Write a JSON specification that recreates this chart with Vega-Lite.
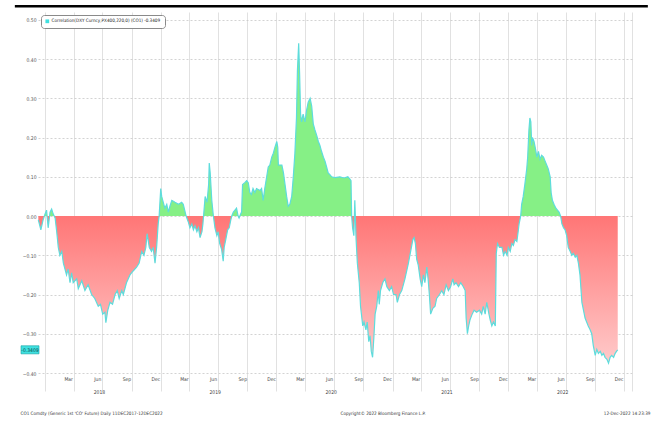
{
"$schema": "https://vega.github.io/schema/vega-lite/v6.json",
"width": 594, "height": 361,
"autosize": {"type": "none"},
"padding": {"left": 38, "top": 12, "right": 29, "bottom": 48},
"background": "white",
"config": {"view": {"stroke": null}, "font": "Liberation Sans Narrow, DejaVu Sans Condensed, Liberation Sans, sans-serif"},
"data": {"values": [
{"date":"2017-12-11","corr":-0.01},{"date":"2017-12-19","corr":-0.035},{"date":"2017-12-26","corr":-0.01},
{"date":"2018-01-01","corr":0.005},{"date":"2018-01-06","corr":0.015},{"date":"2018-01-11","corr":-0.03},{"date":"2018-01-17","corr":0.01},{"date":"2018-01-22","corr":0.018},{"date":"2018-01-27","corr":0.005},
{"date":"2018-02-02","corr":-0.005},{"date":"2018-02-07","corr":-0.04},{"date":"2018-02-12","corr":-0.08},{"date":"2018-02-17","corr":-0.10},{"date":"2018-02-23","corr":-0.09},{"date":"2018-02-28","corr":-0.12},
{"date":"2018-03-10","corr":-0.15},{"date":"2018-03-15","corr":-0.135},{"date":"2018-03-21","corr":-0.17},{"date":"2018-03-26","corr":-0.145},{"date":"2018-03-31","corr":-0.17},
{"date":"2018-04-11","corr":-0.16},{"date":"2018-04-16","corr":-0.185},{"date":"2018-04-27","corr":-0.165},
{"date":"2018-05-07","corr":-0.19},{"date":"2018-05-17","corr":-0.175},{"date":"2018-05-28","corr":-0.20},
{"date":"2018-06-07","corr":-0.21},{"date":"2018-06-18","corr":-0.23},{"date":"2018-06-25","corr":-0.225},
{"date":"2018-07-02","corr":-0.25},{"date":"2018-07-09","corr":-0.245},{"date":"2018-07-12","corr":-0.272},{"date":"2018-07-18","corr":-0.24},{"date":"2018-07-25","corr":-0.22},
{"date":"2018-08-02","corr":-0.225},{"date":"2018-08-10","corr":-0.20},{"date":"2018-08-17","corr":-0.19},{"date":"2018-08-23","corr":-0.21},{"date":"2018-08-31","corr":-0.19},
{"date":"2018-09-05","corr":-0.20},{"date":"2018-09-15","corr":-0.17},{"date":"2018-09-26","corr":-0.15},
{"date":"2018-10-06","corr":-0.14},{"date":"2018-10-17","corr":-0.13},{"date":"2018-10-25","corr":-0.12},
{"date":"2018-11-02","corr":-0.09},{"date":"2018-11-09","corr":-0.10},{"date":"2018-11-15","corr":-0.08},{"date":"2018-11-19","corr":-0.045},{"date":"2018-11-26","corr":-0.08},
{"date":"2018-12-03","corr":-0.09},{"date":"2018-12-08","corr":-0.08},{"date":"2018-12-14","corr":-0.12},{"date":"2018-12-19","corr":-0.08},{"date":"2018-12-24","corr":-0.02},{"date":"2018-12-27","corr":0.0},
{"date":"2019-01-01","corr":0.07},{"date":"2019-01-04","corr":0.05},{"date":"2019-01-09","corr":0.035},{"date":"2019-01-14","corr":0.02},{"date":"2019-01-20","corr":0.03},{"date":"2019-01-25","corr":0.01},{"date":"2019-01-30","corr":0.025},
{"date":"2019-02-05","corr":0.04},{"date":"2019-02-15","corr":0.035},{"date":"2019-02-26","corr":0.03},
{"date":"2019-03-08","corr":0.035},{"date":"2019-03-13","corr":0.03},{"date":"2019-03-19","corr":0.01},{"date":"2019-03-22","corr":0.0},{"date":"2019-03-29","corr":-0.015},
{"date":"2019-04-03","corr":-0.03},{"date":"2019-04-09","corr":-0.02},{"date":"2019-04-14","corr":-0.035},{"date":"2019-04-19","corr":-0.025},{"date":"2019-04-25","corr":-0.04},{"date":"2019-04-30","corr":-0.03},
{"date":"2019-05-05","corr":-0.055},{"date":"2019-05-11","corr":-0.04},{"date":"2019-05-14","corr":-0.02},{"date":"2019-05-16","corr":0.0},{"date":"2019-05-18","corr":0.02},{"date":"2019-05-21","corr":0.05},{"date":"2019-05-27","corr":0.035},
{"date":"2019-06-01","corr":0.08},{"date":"2019-06-03","corr":0.135},{"date":"2019-06-06","corr":0.11},{"date":"2019-06-11","corr":0.04},{"date":"2019-06-16","corr":0.0},{"date":"2019-06-21","corr":-0.03},{"date":"2019-06-27","corr":-0.05},
{"date":"2019-07-01","corr":-0.04},{"date":"2019-07-06","corr":-0.07},{"date":"2019-07-12","corr":-0.085},{"date":"2019-07-17","corr":-0.115},{"date":"2019-07-20","corr":-0.08},{"date":"2019-07-25","corr":-0.06},{"date":"2019-07-31","corr":-0.035},
{"date":"2019-08-05","corr":-0.03},{"date":"2019-08-10","corr":-0.01},{"date":"2019-08-13","corr":0.0},{"date":"2019-08-18","corr":0.01},{"date":"2019-08-23","corr":0.015},{"date":"2019-08-28","corr":0.02},
{"date":"2019-09-02","corr":0.0},{"date":"2019-09-05","corr":-0.005},{"date":"2019-09-10","corr":0.005},{"date":"2019-09-13","corr":0.01},{"date":"2019-09-16","corr":0.08},{"date":"2019-09-23","corr":0.085},{"date":"2019-09-29","corr":0.09},
{"date":"2019-10-04","corr":0.085},{"date":"2019-10-09","corr":0.06},{"date":"2019-10-14","corr":0.055},{"date":"2019-10-19","corr":0.07},{"date":"2019-10-25","corr":0.06},{"date":"2019-10-30","corr":0.07},
{"date":"2019-11-10","corr":0.065},{"date":"2019-11-15","corr":0.07},{"date":"2019-11-20","corr":0.04},{"date":"2019-11-25","corr":0.07},
{"date":"2019-12-01","corr":0.10},{"date":"2019-12-06","corr":0.125},{"date":"2019-12-11","corr":0.13},{"date":"2019-12-17","corr":0.15},{"date":"2019-12-22","corr":0.16},{"date":"2019-12-27","corr":0.175},
{"date":"2020-01-02","corr":0.19},{"date":"2020-01-05","corr":0.175},{"date":"2020-01-07","corr":0.13},{"date":"2020-01-12","corr":0.13},{"date":"2020-01-18","corr":0.13},{"date":"2020-01-23","corr":0.11},{"date":"2020-01-28","corr":0.08},
{"date":"2020-02-02","corr":0.05},{"date":"2020-02-07","corr":0.025},{"date":"2020-02-12","corr":0.03},{"date":"2020-02-18","corr":0.05},{"date":"2020-02-23","corr":0.10},{"date":"2020-02-28","corr":0.16},
{"date":"2020-03-04","corr":0.25},{"date":"2020-03-07","corr":0.37},{"date":"2020-03-11","corr":0.44},{"date":"2020-03-14","corr":0.36},{"date":"2020-03-17","corr":0.26},{"date":"2020-03-20","corr":0.24},{"date":"2020-03-25","corr":0.26},{"date":"2020-03-31","corr":0.24},
{"date":"2020-04-05","corr":0.27},{"date":"2020-04-10","corr":0.29},{"date":"2020-04-16","corr":0.30},{"date":"2020-04-21","corr":0.28},{"date":"2020-04-26","corr":0.235},
{"date":"2020-05-01","corr":0.22},{"date":"2020-05-07","corr":0.205},{"date":"2020-05-12","corr":0.19},{"date":"2020-05-17","corr":0.18},{"date":"2020-05-22","corr":0.165},{"date":"2020-05-28","corr":0.15},
{"date":"2020-06-02","corr":0.14},{"date":"2020-06-07","corr":0.125},{"date":"2020-06-12","corr":0.11},{"date":"2020-06-18","corr":0.105},{"date":"2020-06-23","corr":0.10},
{"date":"2020-07-03","corr":0.098},{"date":"2020-07-19","corr":0.10},{"date":"2020-08-01","corr":0.097},{"date":"2020-08-13","corr":0.10},{"date":"2020-08-19","corr":0.095},{"date":"2020-08-23","corr":0.09},
{"date":"2020-08-25","corr":0.0},{"date":"2020-08-28","corr":-0.03},{"date":"2020-09-01","corr":-0.05},{"date":"2020-09-04","corr":0.04},{"date":"2020-09-08","corr":-0.06},{"date":"2020-09-12","corr":-0.12},{"date":"2020-09-18","corr":-0.17},{"date":"2020-09-22","corr":-0.23},{"date":"2020-09-29","corr":-0.28},
{"date":"2020-10-03","corr":-0.27},{"date":"2020-10-09","corr":-0.29},{"date":"2020-10-13","corr":-0.27},{"date":"2020-10-18","corr":-0.32},{"date":"2020-10-22","corr":-0.305},{"date":"2020-10-26","corr":-0.345},{"date":"2020-10-30","corr":-0.36},
{"date":"2020-11-03","corr":-0.31},{"date":"2020-11-07","corr":-0.25},{"date":"2020-11-12","corr":-0.23},{"date":"2020-11-17","corr":-0.19},{"date":"2020-11-20","corr":-0.225},{"date":"2020-11-24","corr":-0.19},
{"date":"2020-12-01","corr":-0.17},{"date":"2020-12-08","corr":-0.16},{"date":"2020-12-14","corr":-0.18},{"date":"2020-12-22","corr":-0.19},{"date":"2020-12-29","corr":-0.18},
{"date":"2021-01-04","corr":-0.20},{"date":"2021-01-12","corr":-0.20},{"date":"2021-01-16","corr":-0.22},{"date":"2021-01-23","corr":-0.20},{"date":"2021-01-30","corr":-0.19},
{"date":"2021-02-09","corr":-0.16},{"date":"2021-02-20","corr":-0.12},{"date":"2021-02-27","corr":-0.09},
{"date":"2021-03-06","corr":-0.06},{"date":"2021-03-10","corr":-0.055},{"date":"2021-03-14","corr":-0.07},{"date":"2021-03-18","corr":-0.11},{"date":"2021-03-23","corr":-0.125},{"date":"2021-03-29","corr":-0.16},
{"date":"2021-04-03","corr":-0.18},{"date":"2021-04-08","corr":-0.15},{"date":"2021-04-13","corr":-0.17},{"date":"2021-04-19","corr":-0.13},{"date":"2021-04-23","corr":-0.16},{"date":"2021-04-27","corr":-0.20},
{"date":"2021-05-01","corr":-0.25},{"date":"2021-05-08","corr":-0.235},{"date":"2021-05-15","corr":-0.23},{"date":"2021-05-20","corr":-0.21},{"date":"2021-05-29","corr":-0.20},
{"date":"2021-06-05","corr":-0.19},{"date":"2021-06-12","corr":-0.20},{"date":"2021-06-19","corr":-0.175},{"date":"2021-06-26","corr":-0.19},
{"date":"2021-07-03","corr":-0.18},{"date":"2021-07-10","corr":-0.16},{"date":"2021-07-14","corr":-0.175},{"date":"2021-07-20","corr":-0.17},{"date":"2021-07-28","corr":-0.18},
{"date":"2021-08-04","corr":-0.17},{"date":"2021-08-12","corr":-0.18},{"date":"2021-08-18","corr":-0.19},{"date":"2021-08-21","corr":-0.26},{"date":"2021-08-25","corr":-0.30},{"date":"2021-08-29","corr":-0.28},
{"date":"2021-09-02","corr":-0.265},{"date":"2021-09-09","corr":-0.25},{"date":"2021-09-15","corr":-0.24},{"date":"2021-09-23","corr":-0.245},
{"date":"2021-10-02","corr":-0.24},{"date":"2021-10-09","corr":-0.25},{"date":"2021-10-14","corr":-0.23},{"date":"2021-10-20","corr":-0.25},{"date":"2021-10-25","corr":-0.22},
{"date":"2021-11-01","corr":-0.25},{"date":"2021-11-05","corr":-0.265},{"date":"2021-11-10","corr":-0.28},{"date":"2021-11-15","corr":-0.27},{"date":"2021-11-21","corr":-0.28},{"date":"2021-11-24","corr":-0.095},{"date":"2021-11-28","corr":-0.07},
{"date":"2021-12-04","corr":-0.08},{"date":"2021-12-12","corr":-0.08},{"date":"2021-12-17","corr":-0.10},{"date":"2021-12-22","corr":-0.09},{"date":"2021-12-28","corr":-0.10},
{"date":"2022-01-01","corr":-0.08},{"date":"2022-01-07","corr":-0.09},{"date":"2022-01-12","corr":-0.07},{"date":"2022-01-17","corr":-0.075},{"date":"2022-01-22","corr":-0.06},{"date":"2022-01-28","corr":-0.065},
{"date":"2022-02-01","corr":-0.04},{"date":"2022-02-04","corr":-0.02},{"date":"2022-02-09","corr":0.0},{"date":"2022-02-12","corr":0.03},{"date":"2022-02-17","corr":0.05},{"date":"2022-02-22","corr":0.08},{"date":"2022-02-28","corr":0.12},
{"date":"2022-03-03","corr":0.15},{"date":"2022-03-07","corr":0.22},{"date":"2022-03-10","corr":0.25},{"date":"2022-03-13","corr":0.24},{"date":"2022-03-16","corr":0.18},{"date":"2022-03-18","corr":0.20},{"date":"2022-03-23","corr":0.19},{"date":"2022-03-28","corr":0.17},
{"date":"2022-04-01","corr":0.15},{"date":"2022-04-06","corr":0.165},{"date":"2022-04-11","corr":0.145},{"date":"2022-04-16","corr":0.155},{"date":"2022-04-22","corr":0.15},{"date":"2022-04-27","corr":0.14},
{"date":"2022-05-02","corr":0.13},{"date":"2022-05-07","corr":0.12},{"date":"2022-05-13","corr":0.10},{"date":"2022-05-16","corr":0.06},{"date":"2022-05-20","corr":0.04},{"date":"2022-05-25","corr":0.03},{"date":"2022-05-31","corr":0.02},
{"date":"2022-06-05","corr":0.015},{"date":"2022-06-10","corr":0.01},{"date":"2022-06-15","corr":0.0},{"date":"2022-06-19","corr":-0.02},{"date":"2022-06-24","corr":-0.03},{"date":"2022-06-29","corr":-0.035},
{"date":"2022-07-04","corr":-0.05},{"date":"2022-07-09","corr":-0.08},{"date":"2022-07-15","corr":-0.09},{"date":"2022-07-20","corr":-0.10},{"date":"2022-07-25","corr":-0.095},{"date":"2022-07-31","corr":-0.105},
{"date":"2022-08-05","corr":-0.10},{"date":"2022-08-10","corr":-0.12},{"date":"2022-08-15","corr":-0.15},{"date":"2022-08-21","corr":-0.22},{"date":"2022-08-26","corr":-0.24},{"date":"2022-08-31","corr":-0.26},
{"date":"2022-09-05","corr":-0.27},{"date":"2022-09-10","corr":-0.28},{"date":"2022-09-16","corr":-0.29},{"date":"2022-09-21","corr":-0.30},{"date":"2022-09-26","corr":-0.33},
{"date":"2022-10-02","corr":-0.355},{"date":"2022-10-07","corr":-0.34},{"date":"2022-10-12","corr":-0.35},{"date":"2022-10-18","corr":-0.345},{"date":"2022-10-23","corr":-0.355},{"date":"2022-10-28","corr":-0.35},
{"date":"2022-11-02","corr":-0.36},{"date":"2022-11-08","corr":-0.365},{"date":"2022-11-13","corr":-0.375},{"date":"2022-11-18","corr":-0.36},{"date":"2022-11-23","corr":-0.355},{"date":"2022-11-29","corr":-0.36},
{"date":"2022-12-04","corr":-0.35},{"date":"2022-12-08","corr":-0.345},{"date":"2022-12-12","corr":-0.3409}
]},
"resolve": {"axis": {"x": "independent"}},
"layer": [
{
"mark": {"type": "area", "interpolate": "linear", "color": {"gradient": "linear", "x1": 0, "y1": 0, "x2": 0, "y2": 1, "stops": [{"offset": 0, "color": "#86f086"}, {"offset": 0.5399, "color": "#86f086"}, {"offset": 0.5399, "color": "#ff7676"}, {"offset": 1, "color": "#ffcaca"}]}},
"encoding": {
"x": {"field": "date", "type": "temporal", "scale": {"type": "utc", "domain": [{"year": 2017, "month": 12, "date": 10, "utc": true}, {"year": 2023, "month": 1, "date": 26, "utc": true}]},
"axis": {"orient": "bottom", "values": [
{"year":2018,"month":1,"date":1,"utc":true},{"year":2018,"month":4,"date":1,"utc":true},{"year":2018,"month":7,"date":1,"utc":true},{"year":2018,"month":10,"date":1,"utc":true},
{"year":2019,"month":1,"date":1,"utc":true},{"year":2019,"month":4,"date":1,"utc":true},{"year":2019,"month":7,"date":1,"utc":true},{"year":2019,"month":10,"date":1,"utc":true},
{"year":2020,"month":1,"date":1,"utc":true},{"year":2020,"month":4,"date":1,"utc":true},{"year":2020,"month":7,"date":1,"utc":true},{"year":2020,"month":10,"date":1,"utc":true},
{"year":2021,"month":1,"date":1,"utc":true},{"year":2021,"month":4,"date":1,"utc":true},{"year":2021,"month":7,"date":1,"utc":true},{"year":2021,"month":10,"date":1,"utc":true},
{"year":2022,"month":1,"date":1,"utc":true},{"year":2022,"month":4,"date":1,"utc":true},{"year":2022,"month":7,"date":1,"utc":true},{"year":2022,"month":10,"date":1,"utc":true},
{"year":2023,"month":1,"date":1,"utc":true},{"year":2023,"month":1,"date":26,"utc":true}],
"grid": true, "gridColor": "#d9d9d9", "gridWidth": 0.8, "labels": false, "ticks": true, "tickSize": 18, "tickColor": "#d9d9d9", "tickWidth": 0.8, "domain": false,
"title": "CO1 Comdty (Generic 1st 'CO' Future)  Daily 11DEC2017-12DEC2022", "titleFontSize": 4.6, "titleColor": "#333", "titleFontWeight": "normal", "titleAnchor": "start", "titleAlign": "left", "titleX": -18, "titleY": 40.5, "titleBaseline": "middle"}},
"y": {"field": "corr", "type": "quantitative", "title": null, "scale": {"domain": [-0.4, 0.52], "nice": false, "zero": false},
"axis": {"values": [-0.4, -0.3, -0.2, -0.1, 0, 0.1, 0.2, 0.3, 0.4, 0.5], "format": ".2f", "grid": true, "gridColor": "#c8c8c8", "gridDash": [2, 2], "gridWidth": 0.8, "domain": false, "ticks": false, "labelFontSize": 5, "labelColor": "#555", "labelPadding": 2, "title": null}},
"y2": {"datum": 0}
}
},
{
"mark": {"type": "line", "strokeWidth": 1.2, "interpolate": "linear"},
"encoding": {
"x": {"field": "date", "type": "temporal", "scale": {"type": "utc", "domain": [{"year": 2017, "month": 12, "date": 10, "utc": true}, {"year": 2023, "month": 1, "date": 26, "utc": true}]},
"axis": {"orient": "bottom", "values": [
{"year":2018,"month":3,"date":15,"utc":true},{"year":2018,"month":6,"date":15,"utc":true},{"year":2018,"month":9,"date":15,"utc":true},{"year":2018,"month":12,"date":15,"utc":true},
{"year":2019,"month":3,"date":15,"utc":true},{"year":2019,"month":6,"date":15,"utc":true},{"year":2019,"month":9,"date":15,"utc":true},{"year":2019,"month":12,"date":15,"utc":true},
{"year":2020,"month":3,"date":15,"utc":true},{"year":2020,"month":6,"date":15,"utc":true},{"year":2020,"month":9,"date":15,"utc":true},{"year":2020,"month":12,"date":15,"utc":true},
{"year":2021,"month":3,"date":15,"utc":true},{"year":2021,"month":6,"date":15,"utc":true},{"year":2021,"month":9,"date":15,"utc":true},{"year":2021,"month":12,"date":15,"utc":true},
{"year":2022,"month":3,"date":15,"utc":true},{"year":2022,"month":6,"date":15,"utc":true},{"year":2022,"month":9,"date":15,"utc":true},{"year":2022,"month":12,"date":15,"utc":true}],
"format": "%b", "grid": false, "ticks": false, "domain": false, "labelFontSize": 5, "labelColor": "#444", "labelPadding": 3, "labelFlush": false, "labelOverlap": false,
"title": "Copyright© 2022 Bloomberg Finance L.P.", "titleFontSize": 4.6, "titleColor": "#333", "titleFontWeight": "normal", "titleAnchor": "start", "titleAlign": "left", "titleX": 302, "titleY": 40.5, "titleBaseline": "middle"}},
"y": {"field": "corr", "type": "quantitative", "title": null, "scale": {"domain": [-0.4, 0.52], "nice": false, "zero": false}},
"color": {"datum": "Correlation(DXY Curncy,PX400,220,0) (CO1) -0.3409", "scale": {"range": ["#5edcdc"]},
"legend": {"title": null, "orient": "top-left", "offset": 3, "fillColor": "white", "strokeColor": "#8a8a8a", "cornerRadius": 3, "padding": 4, "labelFontSize": 4.6, "labelColor": "#222", "labelLimit": 0, "symbolType": "square", "symbolSize": 14, "symbolStrokeWidth": 0, "labelOffset": 2,
"encode": {"symbols": {"update": {"fill": {"value": "#3fe0e0"}, "stroke": {"value": "#3fe0e0"}, "shape": {"value": "square"}}}}}}
}
},
{
"data": {"values": [{}]},
"mark": {"type": "point", "shape": "M-1,-0.45L1,-0.45L1,0.45L-1,0.45Z", "size": 324, "filled": true, "fill": "#3fe0e0", "stroke": "#1aa3a3", "strokeWidth": 0.6, "opacity": 1, "xOffset": -8},
"encoding": {
"x": {"datum": {"year": 2017, "month": 12, "date": 10, "utc": true}, "type": "temporal", "scale": {"type": "utc", "domain": [{"year": 2017, "month": 12, "date": 10, "utc": true}, {"year": 2023, "month": 1, "date": 26, "utc": true}]},
"axis": {"orient": "bottom", "values": [{"year":2018,"month":6,"date":20,"utc":true},{"year":2019,"month":6,"date":20,"utc":true},{"year":2020,"month":6,"date":20,"utc":true},{"year":2021,"month":6,"date":20,"utc":true},{"year":2022,"month":6,"date":20,"utc":true}],
"format": "%Y", "grid": false, "ticks": false, "domain": false, "labelFontSize": 5, "labelColor": "#444", "labelPadding": 16.5, "labelFlush": false, "labelOverlap": false,
"title": "12-Dec-2022 14:23:39", "titleFontSize": 4.6, "titleColor": "#333", "titleFontWeight": "normal", "titleAnchor": "end", "titleAlign": "right", "titleX": 612, "titleY": 40.5, "titleBaseline": "middle"}},
"y": {"datum": -0.3409, "type": "quantitative", "scale": {"domain": [-0.4, 0.52], "nice": false, "zero": false}}
}
},
{
"data": {"values": [{}]},
"mark": {"type": "text", "text": "-0.3409", "dx": -8, "fontSize": 5, "color": "#064a4a", "align": "center", "baseline": "middle"},
"encoding": {
"x": {"datum": {"year": 2017, "month": 12, "date": 10, "utc": true}, "type": "temporal", "axis": null},
"y": {"datum": -0.3409, "type": "quantitative"}
}
},
{
"data": {"values": [{}]},
"mark": {"type": "rule", "color": "black", "strokeWidth": 2.5},
"encoding": {
"x": {"datum": 1506556800000, "type": "temporal", "axis": null},
"x2": {"datum": 1679011200000},
"y": {"datum": 0.5348, "type": "quantitative"}
}
}
]
}
